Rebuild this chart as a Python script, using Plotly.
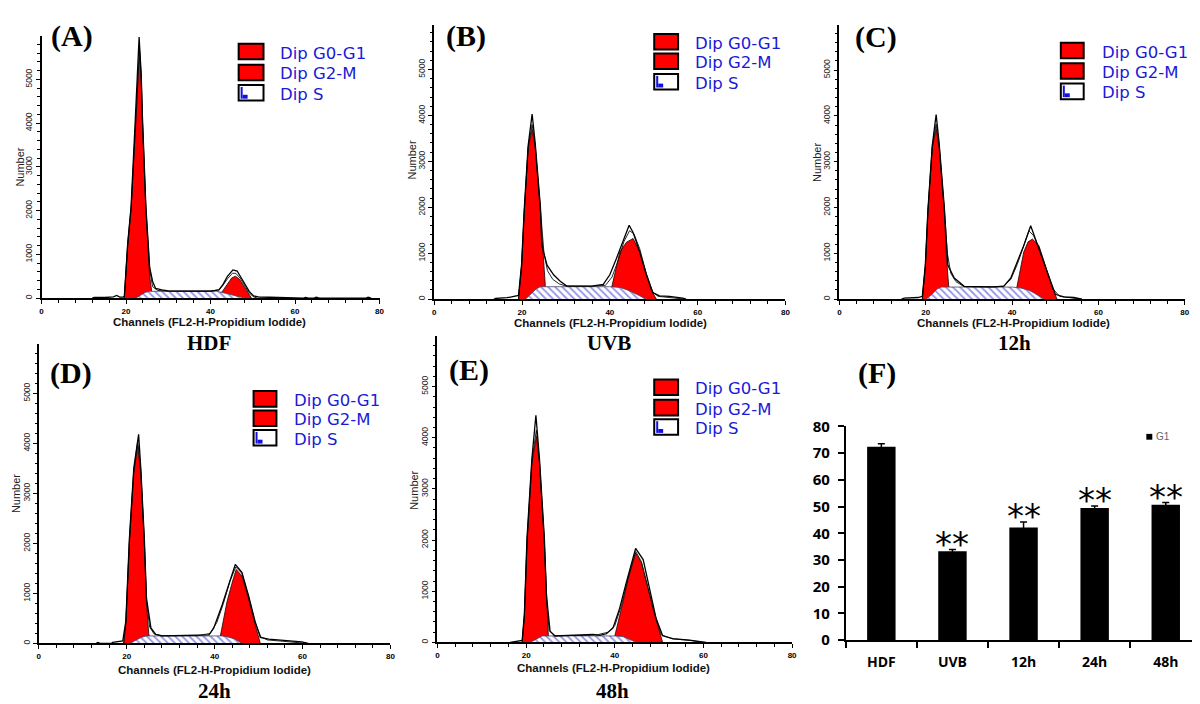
import plotly.graph_objects as go

W, H = 1200, 704

# ---------------- data (channel, count) ----------------
# Panel A : HDF
a_g1 = [(19.6, 0), (20.4, 1200), (21.2, 2000), (22.2, 4000), (22.7, 5000), (23.2, 5650),
        (23.6, 5000), (23.9, 4000), (24.7, 2000), (25.2, 1200), (25.6, 500), (26.3, 0)]
a_g2 = [(41.0, 0), (42.0, 60), (43.0, 180), (44.0, 330), (45.0, 460), (45.9, 500),
        (46.8, 440), (47.8, 290), (48.8, 120), (49.7, 0)]
a_s = [(22.3, 0), (23.5, 70), (24.5, 130), (25.5, 155), (30, 160), (35, 160), (40, 160),
       (41.5, 155), (43, 130), (44.5, 90), (46, 50), (47.2, 20), (48.2, 0)]
a_fit = [(19.6, 0), (20.4, 1250), (21.2, 2050), (22.2, 4050), (22.7, 5050), (23.2, 5700),
         (23.6, 5050), (23.9, 4050), (24.7, 2050), (25.2, 1300), (25.6, 650), (26.3, 260),
         (27.5, 175), (30, 160), (40, 160), (42, 190), (43, 300), (44, 440), (45.2, 570),
         (46, 565), (47, 460), (48, 300), (49, 140), (50, 40), (51, 0)]
a_data = [(12, 0), (12.5, 15), (15, 15), (17, 30), (17.8, 60), (18.5, 25), (19.3, 25),
          (19.6, 40), (20.4, 1250), (21.2, 2100), (22.2, 4100), (22.7, 5100), (23.1, 5970),
          (23.6, 5100), (23.9, 4100), (24.7, 2100), (25.2, 1350), (25.6, 700), (26.3, 380),
          (27, 220), (28.5, 190), (30, 165), (35, 160), (40, 160), (42, 190), (43, 320),
          (44, 500), (45.3, 645), (46.3, 620), (47.2, 480), (48.2, 300), (49.2, 150),
          (50.2, 50), (51.5, 25), (54, 20), (56, 15), (57, 0), (62, 0), (62.5, 15),
          (63.2, 0), (64.5, 0), (65, 20), (65.8, 0), (67, 0), (67.5, 15), (68.2, 0),
          (76.8, 0), (77.3, 20), (78, 0)]

# Panel B : UVB
b_g1 = [(19.2, 0), (19.9, 700), (20.5, 1875), (21.4, 3290), (22.3, 3700), (23.0, 3290),
        (24.2, 1875), (24.8, 900), (25.3, 300), (26.0, 0)]
b_g2 = [(38.5, 0), (39.5, 100), (40.4, 250), (42.3, 1030), (43.8, 1240), (45.3, 1320),
        (46.8, 1030), (48.3, 530), (49.5, 180), (50.6, 0)]
b_s = [(20.8, 0), (22, 100), (23.2, 220), (24.2, 270), (30, 275), (36, 275), (40, 270),
       (42.3, 255), (44, 200), (46, 110), (47.3, 40), (48.3, 0)]
b_fit = [(19.2, 0), (19.9, 720), (20.5, 1900), (21.4, 3300), (22.3, 3800), (23.0, 3350),
         (24.2, 1950), (25, 1000), (25.8, 620), (27, 430), (28.5, 330), (30, 285), (36, 280),
         (39, 300), (40.5, 480), (42, 870), (43.2, 1250), (44.5, 1490), (45.5, 1420),
         (46.8, 1100), (48.3, 560), (49.8, 150), (51, 60), (53, 40), (55, 20), (57, 0)]
b_data = [(13.6, 0), (14, 15), (16.6, 30), (18.9, 60), (19.2, 80), (19.9, 750), (20.5, 1950),
          (21.4, 3350), (22.3, 4030), (23.0, 3400), (24.2, 2000), (24.5, 1170), (25.7, 740),
          (27.2, 530), (28.7, 390), (30.2, 285), (35.8, 285), (38.5, 320), (40, 530),
          (41.5, 885), (43, 1240), (44.4, 1610), (45.3, 1450), (46.8, 1030), (48.3, 530),
          (49.8, 140), (51.3, 70), (53.6, 60), (56.6, 20), (57.4, 0)]

# Panel C : 12h
c_g1 = [(19.2, 0), (19.9, 700), (20.5, 1900), (21.5, 3300), (22.4, 3720), (23.1, 3300),
        (24.3, 1900), (24.8, 900), (25.3, 300), (26.0, 0)]
c_g2 = [(39.5, 0), (40.3, 120), (41.1, 260), (42.7, 1030), (43.7, 1250), (44.7, 1310),
        (46.2, 1170), (47.2, 880), (48.1, 600), (49.3, 250), (50.4, 0)]
c_s = [(20.1, 0), (21.5, 110), (22.6, 220), (23.6, 262), (30, 265), (36, 265), (40.1, 262),
       (42, 240), (44, 190), (45.5, 110), (46.6, 40), (47.4, 0)]
c_fit = [(19.2, 0), (19.9, 720), (20.5, 1920), (21.5, 3320), (22.4, 3820), (23.1, 3350),
         (24.3, 1950), (25, 1000), (25.8, 560), (27, 380), (28.9, 270), (35, 265), (38, 280),
         (39.7, 430), (41.2, 760), (42.7, 1150), (43.9, 1490), (45, 1380), (46.5, 1050),
         (48, 620), (49.5, 220), (51, 60), (54, 30), (56, 0)]
c_data = [(14.4, 0), (15, 20), (18.2, 35), (19.2, 60), (19.9, 750), (20.5, 1950), (21.5, 3350),
          (22.4, 4030), (23.1, 3400), (24.3, 2000), (25.1, 745), (26.6, 460), (28.9, 280),
          (35.8, 265), (38.1, 283), (39.7, 460), (41.2, 815), (42.7, 1170), (44.3, 1600),
          (45.4, 1310), (47, 890), (48.5, 460), (50, 106), (52, 50), (54.3, 35), (56.2, 0)]

# Panel D : 24h
d_g1 = [(19.3, 0), (19.8, 400), (20.6, 2000), (21.6, 3400), (22.5, 3950), (23.2, 3400),
        (24.0, 2000), (24.5, 800), (25.0, 200), (25.5, 0)]
d_g2 = [(39.8, 0), (40.5, 60), (41.3, 150), (42.8, 830), (44.0, 1220), (44.9, 1480),
        (46.2, 1350), (47.7, 900), (49.2, 380), (50.4, 0)]
d_s = [(20.6, 0), (22, 60), (23.3, 120), (24.4, 150), (30, 152), (36, 152), (41.7, 150),
       (43, 130), (44.5, 90), (45.5, 40), (46.2, 0)]
d_fit = [(19.3, 0), (19.8, 420), (20.6, 2050), (21.6, 3450), (22.5, 4050), (23.2, 3450),
         (24.0, 2050), (24.5, 850), (25.2, 330), (26.2, 190), (28, 155), (36, 155), (39, 200),
         (40.5, 420), (42, 800), (43.5, 1250), (44.8, 1530), (46.2, 1400), (47.7, 930),
         (49.2, 420), (50.5, 130), (52, 70), (56, 40), (60, 15), (61, 0)]
d_data = [(13, 0), (13.4, 20), (14, 0), (16.5, 0), (16.8, 20), (19.1, 50), (19.8, 450),
          (20.6, 2100), (21.6, 3500), (22.7, 4180), (23.2, 3500), (24.0, 2100), (24.5, 900),
          (25.5, 310), (26.6, 180), (28, 152), (38.7, 170), (39.8, 310), (41.7, 770),
          (43.2, 1160), (44.7, 1580), (46.2, 1420), (47.7, 960), (49.2, 440), (50.4, 120),
          (52.3, 85), (57.5, 50), (59.8, 30), (61.3, 0)]

# Panel E : 48h
e_g1 = [(19.1, 0), (19.6, 500), (20.2, 1940), (21.3, 3500), (22.3, 4030), (23.0, 3500),
        (24.1, 1940), (24.6, 800), (25.0, 150), (25.5, 0)]
e_g2 = [(38.7, 0), (39.3, 50), (40.0, 127), (41.5, 670), (43.0, 1240), (44.7, 1750),
        (46.0, 1560), (47.5, 1050), (49.0, 540), (50.8, 0)]
e_s = [(20.9, 0), (22, 50), (23, 110), (23.6, 127), (30, 130), (36, 130), (40.4, 127),
       (42, 110), (43.5, 60), (44.9, 0)]
e_fit = [(19.1, 0), (19.6, 520), (20.2, 2000), (21.3, 3550), (22.3, 4150), (23.0, 3550),
         (24.1, 2000), (24.6, 850), (25.2, 230), (26.5, 135), (33, 135), (36, 150), (38.5, 200),
         (40, 330), (41.5, 720), (43, 1260), (44.7, 1780), (46, 1580), (47.5, 1070), (49, 560),
         (50.5, 150), (53, 70), (57, 40), (60, 0)]
e_data = [(16.4, 0), (17.9, 20), (19.1, 40), (19.6, 550), (20.2, 2050), (21.3, 3600),
          (22.2, 4440), (23.0, 3600), (24.1, 2050), (24.6, 900), (25.4, 220), (26.5, 127),
          (33.6, 146), (35.1, 160), (36.6, 140), (38.1, 170), (39.6, 285), (41.1, 670),
          (42.6, 1175), (44.7, 1840), (46.4, 1620), (47.9, 1050), (49.3, 475), (50.8, 130),
          (53.1, 76), (56.8, 45), (59.1, 20), (60.6, 0)]

# Panel F : G1 percentage bar chart
categories = ["HDF", "UVB", "12h", "24h", "48h"]
g1_percent = [72.4, 33.3, 42.2, 49.5, 50.7]
g1_sd = [1.1, 0.6, 2.0, 0.7, 0.8]
significance = ["", "**", "**", "**", "**"]
bar_ymax = 80
bar_ystep = 10

hist_xmax = 80
hist_xstep = 20
hist_xminor = 4
hist_ymax = 5980          # axis ends just below 6000 (no 6000 label)
hist_ystep = 1000
hist_yminor = 200
legend_labels = ["Dip G0-G1", "Dip G2-M", "Dip S"]
panel_letters = ["(A)", "(B)", "(C)", "(D)", "(E)", "(F)"]
conditions = ["HDF", "UVB", "12h", "24h", "48h"]
x_title = "Channels (FL2-H-Propidium Iodide)"
y_title = "Number"

hist_sets = [
    (a_g1, a_g2, a_s, a_fit, a_data),
    (b_g1, b_g2, b_s, b_fit, b_data),
    (c_g1, c_g2, c_s, c_fit, c_data),
    (d_g1, d_g2, d_s, d_fit, d_data),
    (e_g1, e_g2, e_s, e_fit, e_data),
]

# ---------------- layout geometry (pixels) ----------------
hist_geo = [
    dict(x0=31.7, x1=371.7, yb=287.3, yt=18.0, leg_x=(230, 255), leg_rows=(33.5, 55, 76), leg_tx=270,
         letter=(62, 17), num=(10, 152), chan=(200.5, 312), cond=(200, 333)),
    dict(x0=426.7, x1=780.0, yb=288.3, yt=5.7, leg_x=(648, 672), leg_rows=(23.5, 43.5, 64.5), leg_tx=687,
         letter=(459, 17.5), num=(404, 145), chan=(604, 313), cond=(603, 333)),
    dict(x0=834.3, x1=1181.7, yb=288.3, yt=6.3, leg_x=(1057, 1080), leg_rows=(32.5, 53.5, 74.5), leg_tx=1096,
         letter=(871, 19), num=(812, 148), chan=(1009, 313), cond=(1010, 333)),
    dict(x0=29.0, x1=382.7, yb=642.7, yt=334.9, leg_x=(245, 268), leg_rows=(391, 411, 431), leg_tx=284,
         letter=(61, 364), num=(6, 488), chan=(205.5, 670), cond=(206, 692)),
    dict(x0=430.0, x1=786.7, yb=641.7, yt=326.7, leg_x=(648, 672), leg_rows=(379, 400, 420), leg_tx=687,
         letter=(462, 361), num=(407, 485), chan=(607, 668), cond=(606, 692)),
]
bar_geo = dict(x0=840.7, x1=1198.3, yb=639.3, yt=419.3, letter=(872, 364))


def px(x):
    return x / W


def py(y):
    return 1 - y / H


def unzip(pairs):
    return [p[0] for p in pairs], [p[1] for p in pairs]


RED = "#ff0000"
BLUE_TXT = "#1a1ad6"
HATCH = "#2a2ad0"

fig = go.Figure()
annotations = []
shapes = []
layout_axes = {}

for i, (sets, g) in enumerate(zip(hist_sets, hist_geo)):
    n = i + 1
    xa = "x" if n == 1 else f"x{n}"
    ya = "y" if n == 1 else f"y{n}"
    g1, g2, s, fit, data = sets
    for comp in (g1, g2):
        xs, ys = unzip(comp)
        fig.add_trace(go.Scatter(x=xs, y=ys, xaxis=xa, yaxis=ya, mode="lines", fill="tozeroy",
                                 fillcolor=RED, line=dict(color="#200000", width=0.8),
                                 showlegend=False, hoverinfo="skip"))
    xs, ys = unzip(s)
    fig.add_trace(go.Scatter(x=xs, y=ys, xaxis=xa, yaxis=ya, mode="lines", fill="tozeroy",
                             fillcolor="white",
                             fillpattern=dict(shape="\\", fgcolor=HATCH, bgcolor="white",
                                              size=5, solidity=0.35),
                             line=dict(color="#444466", width=0.8),
                             showlegend=False, hoverinfo="skip"))
    xs, ys = unzip(fit)
    fig.add_trace(go.Scatter(x=xs, y=ys, xaxis=xa, yaxis=ya, mode="lines",
                             line=dict(color="#111111", width=0.9),
                             showlegend=False, hoverinfo="skip"))
    xs, ys = unzip(data)
    fig.add_trace(go.Scatter(x=xs, y=ys, xaxis=xa, yaxis=ya, mode="lines",
                             line=dict(color="black", width=1.3),
                             showlegend=False, hoverinfo="skip"))

    xkey = "xaxis" if n == 1 else f"xaxis{n}"
    ykey = "yaxis" if n == 1 else f"yaxis{n}"
    layout_axes[xkey] = dict(
        domain=[px(g["x0"]), px(g["x1"])], anchor=ya, range=[0, hist_xmax],
        tickmode="linear", tick0=0, dtick=hist_xstep,
        ticks="outside", ticklen=4, tickwidth=1.2, tickcolor="black",
        minor=dict(tickmode="linear", tick0=0, dtick=hist_xminor, ticks="outside", ticklen=3,
                   tickwidth=1, tickcolor="black", showgrid=False),
        showline=True, linecolor="black", linewidth=1.6, showgrid=False, zeroline=False,
        tickfont=dict(family="Liberation Sans", size=8, color="black", weight="bold"),
        fixedrange=True,
    )
    layout_axes[ykey] = dict(
        domain=[py(g["yb"]), py(g["yt"])], anchor=xa, range=[0, hist_ymax],
        tickmode="linear", tick0=0, dtick=hist_ystep,
        ticks="outside", ticklen=4, tickwidth=1.2, tickcolor="black", tickangle=-90,
        minor=dict(tickmode="linear", tick0=0, dtick=hist_yminor, ticks="outside", ticklen=2.5,
                   tickwidth=1, tickcolor="black", showgrid=False),
        showline=True, linecolor="black", linewidth=1.6, showgrid=False, zeroline=False,
        tickfont=dict(family="Liberation Sans", size=8.5, color="#222222"),
        fixedrange=True,
    )

    # legend boxes
    lx0, lx1 = g["leg_x"]
    for k, (label, yc) in enumerate(zip(legend_labels, g["leg_rows"])):
        fill = RED if k < 2 else "white"
        shapes.append(dict(type="rect", xref="paper", yref="paper",
                           x0=px(lx0), x1=px(lx1), y0=py(yc + 8), y1=py(yc - 8),
                           fillcolor=fill, line=dict(color="black", width=2)))
        if k == 2:
            shapes.append(dict(type="rect", xref="paper", yref="paper",
                               x0=px(lx0 + 2), x1=px(lx0 + 4), y0=py(yc + 6), y1=py(yc - 6),
                               fillcolor="#1010e0", line=dict(width=0)))
            shapes.append(dict(type="rect", xref="paper", yref="paper",
                               x0=px(lx0 + 4), x1=px(lx0 + 9), y0=py(yc + 6), y1=py(yc + 2),
                               fillcolor="#1010e0", line=dict(width=0)))
        annotations.append(dict(xref="paper", yref="paper", x=px(g["leg_tx"]), y=py(yc + 1.5),
                                xanchor="left", yanchor="middle", showarrow=False, text=label,
                                font=dict(family="DejaVu Sans", size=16.5, color=BLUE_TXT)))

    annotations.append(dict(xref="paper", yref="paper", x=px(g["letter"][0]), y=py(g["letter"][1]),
                            xanchor="center", yanchor="middle", showarrow=False,
                            text=f"<b>{panel_letters[i]}</b>",
                            font=dict(family="Liberation Serif", size=30, color="black")))
    annotations.append(dict(xref="paper", yref="paper", x=px(g["num"][0]), y=py(g["num"][1]),
                            xanchor="center", yanchor="middle", showarrow=False, text=y_title,
                            textangle=-90,
                            font=dict(family="Liberation Sans", size=11, color="#222222")))
    annotations.append(dict(xref="paper", yref="paper", x=px(g["chan"][0]), y=py(g["chan"][1]),
                            xanchor="center", yanchor="middle", showarrow=False,
                            text=f"<b>{x_title}</b>",
                            font=dict(family="Liberation Sans", size=11.5, color="#111111")))
    annotations.append(dict(xref="paper", yref="paper", x=px(g["cond"][0]), y=py(g["cond"][1]),
                            xanchor="center", yanchor="middle", showarrow=False,
                            text=f"<b>{conditions[i]}</b>",
                            font=dict(family="Liberation Serif", size=21, color="black")))

# ---------------- bar chart F ----------------
idx = list(range(len(categories)))
bounds = [v - 0.5 for v in range(len(categories) + 1)]
fig.add_trace(go.Bar(x=idx, y=g1_percent, xaxis="x6", yaxis="y6", name="G1",
                     marker=dict(color="black", line=dict(width=0)), width=0.4,
                     error_y=dict(type="data", array=g1_sd, visible=True, color="black",
                                  thickness=1.5, width=3.5),
                     showlegend=False, hoverinfo="skip"))
# axis with tick marks at the category boundaries
layout_axes["xaxis6"] = dict(
    domain=[px(bar_geo["x0"]), px(bar_geo["x1"])], anchor="y6", range=[bounds[0], bounds[-1]],
    tickmode="array", tickvals=bounds, ticktext=["" for _ in bounds],
    ticks="outside", ticklen=6, tickwidth=2, tickcolor="black",
    showline=True, linecolor="black", linewidth=2, showgrid=False, zeroline=False,
    fixedrange=True,
)
# overlaying axis carrying the category labels
layout_axes["xaxis7"] = dict(
    domain=[px(bar_geo["x0"]), px(bar_geo["x1"])], anchor="y6", overlaying="x6",
    range=[bounds[0], bounds[-1]],
    tickmode="array", tickvals=idx, ticktext=categories,
    ticks="", ticklabelstandoff=12,
    showline=False, showgrid=False, zeroline=False,
    tickfont=dict(family="Open Sans", size=14, color="black", weight="bold"),
    fixedrange=True,
)
layout_axes["yaxis6"] = dict(
    domain=[py(bar_geo["yb"]), py(bar_geo["yt"])], anchor="x6", range=[0, bar_ymax],
    tickmode="linear", tick0=0, dtick=bar_ystep,
    ticks="outside", ticklen=6, tickwidth=2, tickcolor="black", ticklabelstandoff=5,
    showline=True, linecolor="black", linewidth=2, showgrid=False, zeroline=False,
    tickfont=dict(family="Open Sans", size=15, color="black", weight="bold"),
    fixedrange=True,
)
# invisible helper trace so the label axis is drawn
fig.add_trace(go.Scatter(x=[idx[0]], y=[0], xaxis="x7", yaxis="y6", mode="markers",
                         marker=dict(size=1, opacity=0), showlegend=False, hoverinfo="skip"))

for i, (m, sd, sig) in enumerate(zip(g1_percent, g1_sd, significance)):
    if sig:
        annotations.append(dict(xref="x6", yref="y6", x=i, y=m + sd, xanchor="center",
                                yanchor="bottom", yshift=-16, showarrow=False, text=sig,
                                font=dict(family="DejaVu Sans", size=34, color="black")))

annotations.append(dict(xref="paper", yref="paper", x=px(bar_geo["letter"][0]), y=py(bar_geo["letter"][1]),
                        xanchor="center", yanchor="middle", showarrow=False,
                        text=f"<b>{panel_letters[5]}</b>",
                        font=dict(family="Liberation Serif", size=30, color="black")))
# legend of F
shapes.append(dict(type="rect", xref="paper", yref="paper", x0=px(1143), x1=px(1149),
                   y0=py(433), y1=py(427), fillcolor="black", line=dict(width=0)))
annotations.append(dict(xref="paper", yref="paper", x=px(1151), y=py(430), xanchor="left",
                        yanchor="middle", showarrow=False, text="G1",
                        font=dict(family="Liberation Sans", size=10, color="#666666")))

fig.update_layout(
    width=W, height=H, margin=dict(l=0, r=0, t=0, b=0),
    paper_bgcolor="white", plot_bgcolor="white",
    showlegend=False, annotations=annotations, shapes=shapes,
    **layout_axes,
)

fig.write_html("out.html")
